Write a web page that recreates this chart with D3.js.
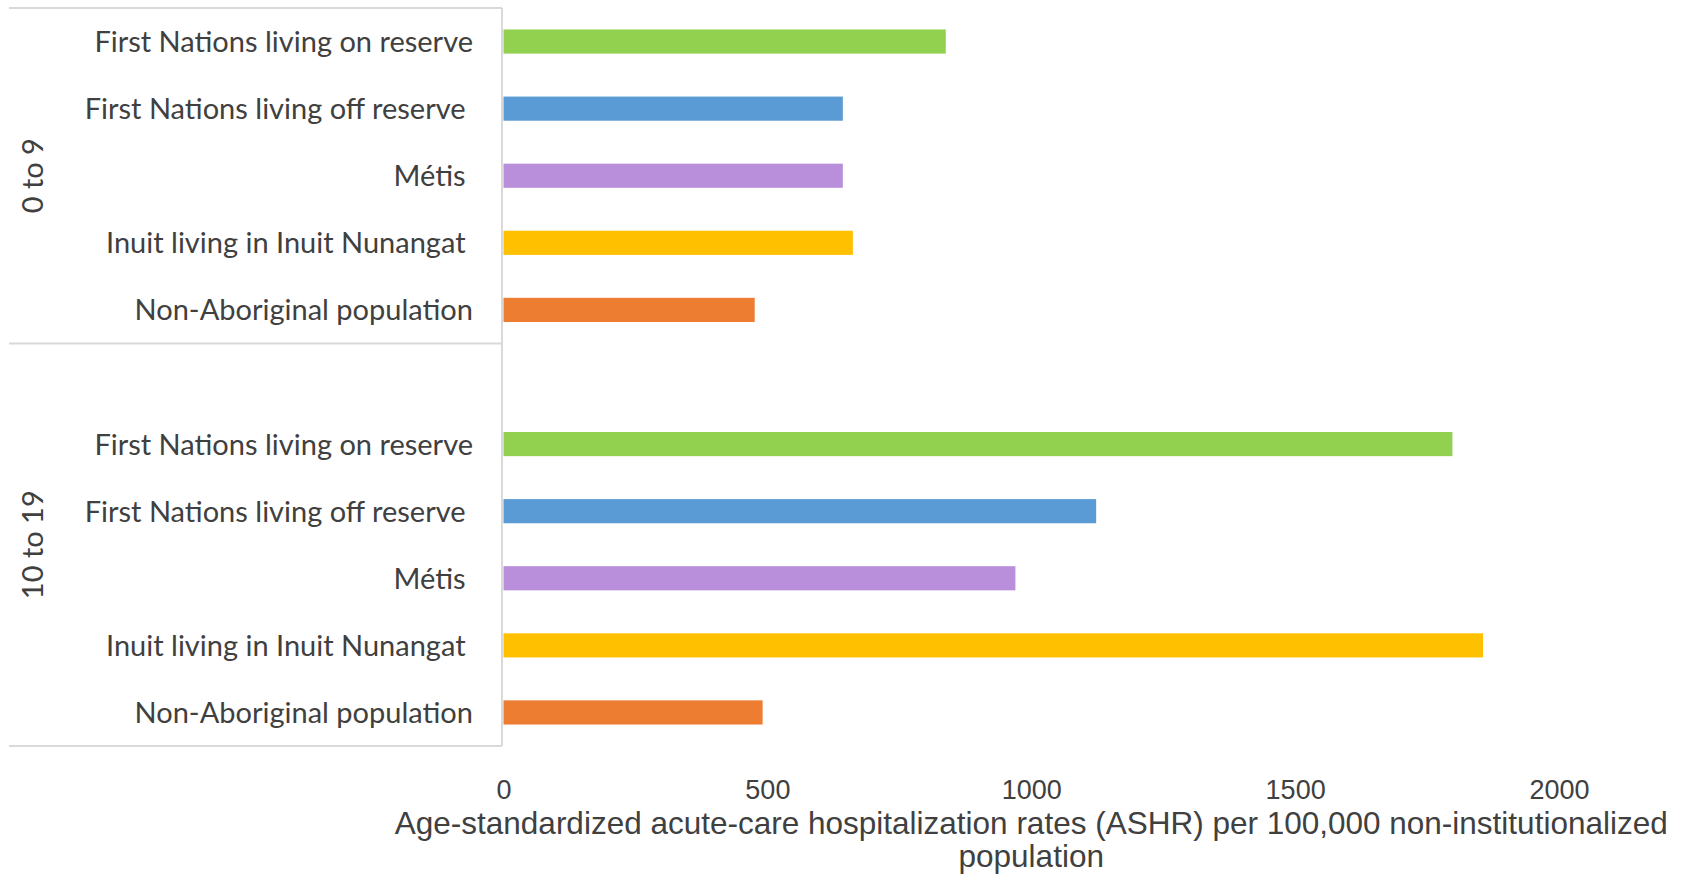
<!DOCTYPE html>
<html>
<head>
<meta charset="utf-8">
<script src="https://cdn.jsdelivr.net/npm/d3@7"></script>
<style>
  body { margin: 0; background: #fff; }
  svg text { white-space: pre; }
</style>
</head>
<body>
<div id="chart"></div>
<script>
// age groups (outer category level) and populations (inner level)
const ageGroups = ["0 to 9", "10 to 19"];
const populations = [
    "First Nations living on reserve",
    "First Nations living off reserve ",
    "Métis ",
    "Inuit living in Inuit Nunangat ",
    "Non-Aboriginal population"
];
// ASHR per 100,000
const rates0to9 = [838, 643, 643, 662, 476];
const rates10to19 = [1798, 1123, 970, 1856, 491];
const barColors = ["#92d050", "#5b9bd5", "#b98fdb", "#ffc000", "#ed7d31"];
const xTicks = [0, 500, 1000, 1500, 2000];
const xTitle = ["Age-standardized acute-care hospitalization rates (ASHR) per 100,000 non-institutionalized", "population"];

const width = 1691, height = 875;
const margin = {top: 8, left: 503.5, right: 132, bottom: 129};
const labelFont = "Lato, 'Open Sans', sans-serif";
const axisFont = "'Liberation Sans', Arial, sans-serif";

// the category axis has 11 slots: 5 for the first group, a blank + 5 for the second
const slots = [];
populations.forEach((p, i) => slots.push({key: "a" + i, group: 0, label: p, value: rates0to9[i], color: barColors[i]}));
slots.push({key: "blank", group: 1, label: "", value: null});
populations.forEach((p, i) => slots.push({key: "b" + i, group: 1, label: p, value: rates10to19[i], color: barColors[i]}));

const svg = d3.select("#chart").append("svg")
    .attr("width", width)
    .attr("height", height);

const xScale = d3.scaleLinear().domain([0, 2000]).range([margin.left, width - margin.right]);
const yScale = d3.scaleBand()
    .domain(slots.map(d => d.key))
    .range([margin.top, height - margin.bottom])
    .paddingInner(0.64)
    .paddingOuter(0.32);
const step = yScale.step();
const slotTop = k => yScale(k) - step * 0.32;

// category axis frame lines (excel style)
const axisX = xScale(0) - 1.5;
const frame = svg.append("g").attr("stroke", "#d9d9d9").attr("stroke-width", 2);
const groupEdges = [margin.top, slotTop("blank"), height - margin.bottom];
frame.selectAll("line.h").data(groupEdges).join("line")
    .attr("class", "h")
    .attr("x1", 9).attr("x2", axisX)
    .attr("y1", d => d).attr("y2", d => d);
frame.append("line")
    .attr("x1", axisX).attr("x2", axisX)
    .attr("y1", margin.top).attr("y2", height - margin.bottom);

// bars
svg.append("g").selectAll("rect")
    .data(slots.filter(d => d.value !== null))
    .join("rect")
    .attr("x", xScale(0))
    .attr("y", d => yScale(d.key))
    .attr("width", d => xScale(d.value) - xScale(0))
    .attr("height", yScale.bandwidth())
    .attr("fill", d => d.color);

// inner category labels
svg.append("g").selectAll("text")
    .data(slots.filter(d => d.label))
    .join("text")
    .attr("x", 473)
    .attr("y", d => yScale(d.key) + yScale.bandwidth() / 2 + 10.5)
    .attr("text-anchor", "end")
    .attr("font-family", labelFont)
    .attr("font-size", 29)
    .attr("fill", "#404040")
    .text(d => d.label);

// outer group labels, rotated
svg.append("g").selectAll("text")
    .data(ageGroups)
    .join("text")
    .attr("transform", (d, i) => {
        const cy = (groupEdges[i] + groupEdges[i + 1]) / 2;
        return "translate(43," + cy + ") rotate(-90)";
    })
    .attr("text-anchor", "middle")
    .attr("font-family", labelFont)
    .attr("font-size", 29)
    .attr("fill", "#404040")
    .text(d => d);

// value axis, labels only
const xAxisG = svg.append("g")
    .attr("transform", "translate(0,780)")
    .call(d3.axisBottom(xScale).tickValues(xTicks).tickSize(0).tickPadding(0).tickFormat(d3.format("d")));
xAxisG.select(".domain").remove();
xAxisG.selectAll("text")
    .attr("dy", "0.71em")
    .attr("font-family", axisFont)
    .attr("font-size", 27)
    .attr("fill", "#404040");

svg.append("text")
    .attr("x", (xScale(0) + xScale(2000)) / 2)
    .attr("text-anchor", "middle")
    .attr("font-family", axisFont)
    .attr("font-size", 31.5)
    .attr("fill", "#404040")
    .selectAll("tspan")
    .data(xTitle)
    .join("tspan")
    .attr("x", (xScale(0) + xScale(2000)) / 2)
    .attr("y", (d, i) => 834 + i * 33)
    .text(d => d);
</script>
</body>
</html>
